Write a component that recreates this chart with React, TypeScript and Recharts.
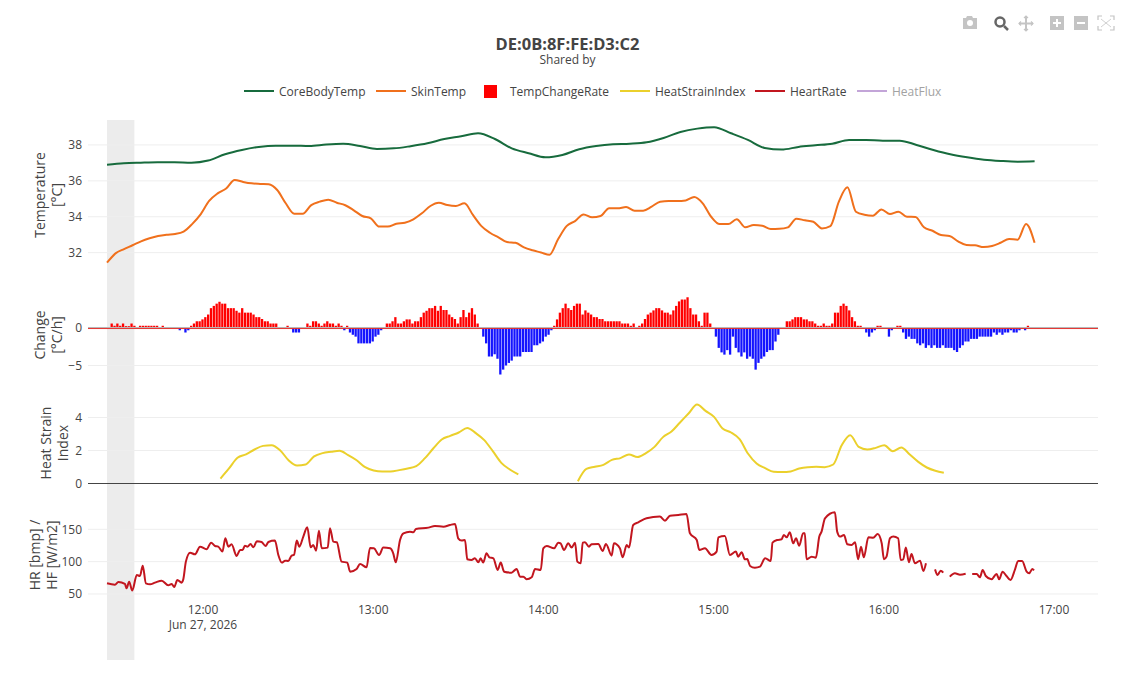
import React from 'react';
import {
  ComposedChart,
  Line,
  Bar,
  Cell,
  XAxis,
  YAxis,
  CartesianGrid,
  ReferenceArea,
  ReferenceLine
} from 'recharts';

const FONT = '"Open Sans", sans-serif';

// time axis, minutes since midnight
const timeDomain = [679.46, 1035.51];
const timeTicks = [720, 780, 840, 900, 960, 1020];
const lineStart = 686.16;
const barStart = 685.91;
const offWristUntil = 695.8;

// degrees C, end to end over the 327 minutes of the recording
const coreTemp = [
  36.9, 36.98, 37.01, 37.03, 37.03, 37.01, 37.13, 37.48, 37.72, 37.89, 37.96, 37.96, 37.94, 38.02, 38.06, 37.94, 37.78, 37.81, 37.93, 38.09,
  38.33, 38.48, 38.65, 38.33, 37.81, 37.54, 37.31, 37.44, 37.76, 37.94, 38.04, 38.07, 38.15, 38.39, 38.72, 38.91, 38.99, 38.65, 38.28, 37.83,
  37.74, 37.89, 37.98, 38.07, 38.28, 38.28, 38.24, 38.24, 38.0, 37.72, 37.48, 37.31, 37.18, 37.11, 37.07, 37.09
];

// degrees C, one every 3 minutes
const skinTemp = [
  31.44, 31.96, 32.2, 32.41, 32.63, 32.8, 32.93, 33.0, 33.04, 33.17, 33.59, 34.13, 34.88, 35.3, 35.57, 36.05, 35.94, 35.86, 35.83, 35.81,
  35.49, 34.75, 34.17, 34.17, 34.65, 34.84, 34.95, 34.78, 34.64, 34.36, 34.04, 33.91, 33.45, 33.45, 33.61, 33.67, 33.86, 34.19, 34.6, 34.78,
  34.65, 34.6, 34.75, 34.1, 33.48, 33.11, 32.85, 32.59, 32.55, 32.29, 32.13, 32.01, 31.88, 32.74, 33.48, 33.76, 34.13, 33.97, 34.04, 34.47,
  34.47, 34.54, 34.34, 34.34, 34.56, 34.84, 34.88, 34.88, 34.91, 35.1, 34.75, 34.0, 33.59, 33.59, 33.86, 33.41, 33.54, 33.5, 33.32,
  33.33, 33.41, 33.89, 33.8, 33.72, 33.35, 33.48, 34.84, 35.64, 34.28, 34.11, 34.06, 34.41, 34.15, 34.28, 34.0, 33.99, 33.41, 33.22, 32.98,
  32.93, 32.63, 32.42, 32.41, 32.31, 32.37, 32.55, 32.76, 32.72, 33.6, 32.55
];

// degrees C per hour, one bar a minute
const tempRate = [
  0, 0, 0.6, 0.3, 0.6, 0.3, 0.6, 0.25, 0.25, 0.6, 0.3, 0.05, 0.3, 0.3, 0.3, 0.3, 0.3, 0.3, 0.3, 0.05,
  0.3, 0.05, 0.05, 0.05, 0.05, 0.05, -0.3, 0.05, -0.6, -0.3, 0.3, 0.6, 0.9, 0.9, 1.15, 1.45, 1.8, 2.65, 2.95, 3.25,
  3.5, 3.25, 3.25, 2.65, 2.65, 2.65, 2.3, 2.05, 2.65, 2.05, 2.05, 2.05, 1.8, 1.45, 1.45, 1.2, 0.9, 0.9, 0.6, 0.6,
  0.6, 0.05, 0.05, 0.05, 0.3, 0.05, -0.6, -0.6, -0.6, 0.05, 0.05, 0.6, 0.3, 0.9, 0.9, 0.6, 0.3, 0.6, 0.9, 0.6,
  0.6, 0.3, 0.6, 0.3, -0.3, 0.3, -0.6, -0.9, -1.15, -2.05, -2.05, -2.05, -2.05, -2.05, -1.8, -1.15, -0.9, -0.3, 0.05, 0.6,
  0.6, 0.9, 1.45, 0.6, 0.6, 0.9, 1.15, 1.15, 0.6, 0.9, 0.9, 1.45, 2.05, 2.3, 2.65, 2.65, 2.95, 2.3, 2.95, 2.4,
  2.4, 1.8, 1.45, 1.2, 0.6, 1.45, 2.4, 1.45, 2.05, 2.65, 1.8, 0.6, 0.1, -1.15, -2.05, -3.8, -3.8, -3.5, -4.1, -6.2,
  -5.55, -5, -4.65, -4.35, -3.8, -3.8, -3.8, -3.2, -3.2, -3.2, -3.2, -2.3, -2.3, -2.05, -1.8, -1.15, -0.9, -0.3, 0.3, 1.15,
  2.05, 2.65, 3.25, 2.65, 2.4, 2.95, 3.25, 3.25, 1.8, 2.35, 2.05, 1.8, 1.45, 1.45, 1.2, 1.2, 0.9, 0.9, 0.9, 0.9,
  0.9, 0.9, 0.6, 0.6, 0.6, 0.3, 0.6, -0.05, 0.3, 0.6, 1.2, 1.8, 2.05, 2.35, 2.65, 2.65, 2.35, 2.05, 2.05, 1.8,
  2.35, 2.95, 3.55, 3.8, 3.8, 4.1, 2.65, 1.8, 1.8, 0.9, 0.3, 2.05, 2.05, 0.6, 0.1, -1.15, -2.65, -3.25, -3.55, -2.95,
  -3.55, -1.15, -2.65, -3.25, -3.8, -3.25, -4.1, -3.8, -4.1, -5.55, -4.65, -4.1, -3.8, -3.2, -2.95, -2.95, -1.8, -0.9, 0, 0.05,
  0.9, 0.9, 1.15, 1.45, 1.45, 1.45, 1.15, 1.15, 0.9, 0.9, 0.6, 0.3, 0.3, 0.6, 0.3, 0.3, 0.6, 2.05, 2.05, 2.95,
  3.25, 2.95, 2.35, 1.45, 0.9, 0.3, 0.3, 0.05, -0.6, -1.15, -0.6, -0.3, 0.3, 0.3, 0.05, -0.05, -1.15, -0.3, 0.05, 0.3,
  0.3, -0.6, -1.45, -1.15, -1.45, -1.45, -2.05, -2.3, -2.05, -2.65, -2.3, -2.65, -2.3, -2.65, -2.65, -2.3, -2.65, -2.65, -2.65, -2.95,
  -3.2, -2.65, -2.3, -1.8, -1.8, -1.45, -1.45, -1.45, -1.15, -1.15, -1.15, -1.15, -1.15, -0.6, -0.9, -0.6, -0.9, -0.6, -0.6, -0.3,
  -0.6, -0.6, -0.3, 0.05, -0.3, 0.3
];

// one every 3 minutes from minute 40 of the recording, null while it is not computed
const heatStrainFrom = 40;
const heatStrain = [
  0.3, 0.91, 1.56, 1.76, 2.06, 2.28, 2.32, 2.02, 1.41, 1.09, 1.15, 1.64, 1.84, 1.92, 1.98, 1.72, 1.41, 0.99, 0.79, 0.73,
  0.73, 0.81, 0.91, 1.05, 1.52, 2.12, 2.67, 2.89, 3.09, 3.37, 3.05, 2.63, 1.96, 1.25, 0.85, 0.55,
  null, null, null, null, null, null,
  0.14, 0.89, 1.01, 1.13, 1.43, 1.54, 1.76, 1.6, 1.84, 2.22, 2.81, 3.15, 3.7, 4.24, 4.79, 4.4, 4.04, 3.33, 3.09, 2.69,
  1.8, 1.21, 0.93, 0.71, 0.69, 0.73, 0.91, 0.99, 1.01, 0.99, 1.15, 2.32, 2.93, 2.22, 2.06, 2.16, 2.32, 1.96, 2.18, 1.76,
  1.31, 0.97, 0.77, 0.65
];

// heart rate samples: minutes into the recording and bpm
const hrMinute = [
  0, 2.8, 4, 6.3, 6.9, 7.8, 8.9, 10.5, 11.6, 12.6, 13.7, 15.2, 16.9, 19.3, 21.6, 22.8, 23.7, 24.8, 26.3, 26.9,
  27.8, 29.3, 31, 32.8, 35.1, 36.7, 38.1, 39.2, 40.7, 41.7, 42.8, 43.9, 45.7, 46.9, 47.8, 48.6, 49.5, 50.6, 51.6, 52.8,
  54.5, 55.9, 56.9, 59.2, 60.4, 61.6, 62.8, 63.9, 65.1, 65.9, 66.9, 67.8, 69.2, 70.6, 71.8, 72.7, 73.7, 74.7, 75.7, 77.8,
  78.6, 79.8, 81, 82.7, 84.7, 85.7, 88, 89.2, 91.5, 92.7, 94.1, 95.9, 97.4, 99.8, 100.9, 101.8, 103.3, 104.5, 106.8, 108,
  108.9, 113.3, 115.6, 118.6, 120.9, 122.7, 123.8, 125, 126.2, 127, 128.5, 129.7, 130.9, 131.7, 132.6, 133.8, 134.8, 136.2, 137.7, 138.8,
  140, 142.6, 144.4, 145.6, 146.8, 147.9, 149.7, 150.9, 152.9, 153.8, 155, 157.6, 159.1, 159.9, 161.1, 162.6, 163.8, 165, 165.8, 167,
  167.7, 168.5, 169.9, 170.8, 173.2, 174.7, 175.9, 177.9, 178.7, 180.8, 181.8, 183.2, 184, 185.5, 187.3, 190.2, 194.9, 196.7, 198.5, 201.4,
  204.3, 205.5, 207.9, 208.8, 210.8, 213.1, 214.9, 215.5, 217.8, 219.6, 221.7, 222.5, 223.7, 224.9, 225.7, 226.7, 228.4, 230.2, 232, 234,
  234.6, 236.3, 237.8, 238.6, 239.6, 240.7, 241.9, 242.9, 244, 245.4, 246, 246.6, 248.4, 249.9, 251.1, 251.9, 253.1, 256.6, 257.4, 258.4,
  259.8, 261, 262.5, 263.7, 264.8, 265.8, 266.8, 268.4, 270.1, 271.7, 273.1, 273.9, 274.8, 276, 277.2, 278.9, 279.8, 280.7, 281.6, 282.7,
  283.6, 284.8, 286.6, 287.8, 288.7, 290.3, 291.9, 292.8, 293.9, 294.8, 296, 297.1, 298.9, 300.7, 302.7, 303.8, 305, 306.6, 307.7, 308.7,
  309.8, 311.8, 313.6, 314.5, 315.7, 317.1, 318.5, 320.1, 321.2, 322.6, 324.2, 325.1, 326.2, 326.8
];
const hrBpm = [
  66.5, 64.4, 68.6, 65.5, 58.8, 69.1, 55.2, 79.4, 77.8, 93.8, 66.5, 64.9, 67.5, 70.6, 63.4, 65.5, 60.8, 71.6, 67.5, 72.7,
  100, 113.9, 111.3, 123.2, 119.1, 129.4, 124.2, 123.2, 115.5, 136.1, 123.2, 126.8, 108.8, 118, 118, 124.7, 123.2, 127.3, 122.2, 131.4,
  130.4, 124.2, 130.4, 132.5, 110.3, 98.5, 101.5, 101, 109.3, 110.3, 132.5, 123.2, 138.7, 153.1, 122.2, 125.8, 117, 147.9, 120.6, 121.7,
  151.6, 130.9, 129.9, 100, 98.5, 84.5, 88.7, 96.4, 91.2, 121.1, 120.6, 110.3, 121.7, 120.6, 112.9, 99, 133.5, 143.8, 146.4, 145.4,
  150.5, 152.6, 155.2, 154.1, 156.7, 158.3, 136.1, 132.5, 133.5, 103.6, 102.6, 105.2, 99, 105.2, 98.5, 112.9, 106.7, 105.2, 87.1, 98.5,
  84.5, 83, 88.7, 76.8, 76.8, 72.7, 75.8, 88.7, 87.1, 120.6, 124.2, 120.6, 129.4, 128.4, 118, 128.4, 121.7, 129.4, 100, 97.4,
  129.4, 129.9, 123.2, 126.8, 127.3, 116.5, 127.3, 109.3, 128.4, 120.6, 106.7, 125.8, 121.7, 156.7, 160.8, 167, 169.6, 163.4, 171.1, 172.2,
  173.7, 143.8, 133.5, 118, 120.6, 110.3, 115.5, 137.6, 139.7, 110.3, 115.5, 107.7, 114.4, 103.6, 104.1, 93.3, 90.7, 92.3, 105.2, 101,
  129.4, 133.5, 134.5, 141.2, 137.6, 145.4, 128.4, 136.1, 124.7, 143.8, 143.8, 103.6, 107.7, 106.2, 138.7, 146.4, 167, 176.3, 146.4, 138.7,
  141.2, 126.8, 125.8, 129.9, 103.6, 123.2, 106.7, 137.6, 137.1, 142.8, 128.4, 103.6, 107.7, 136.1, 138.7, 136.1, 102.6, 103.6, 121.7, 99,
  111.9, 97.4, 101.5, 85.6, 97.4, null, 88.1, 79.4, 86.1, 83, null, 76.8, 82, 79.9, 81.4, null, 80.9, 80.9, 75.8, 87.1,
  77.8, 72.7, 80.9, 72.7, 84.5, 77.8, 71.6, 88.1, 101, 101, 84.5, 82, 88.7, 86.6
];

const tempTicks = [32, 34, 36, 38];
const rateTicks = [-5, 0];
const strainTicks = [0, 2, 4];
const hrTicks = [50, 100, 150];

const legendItems = [
  { name: 'CoreBodyTemp', color: '#176b3d', x: 244 },
  { name: 'SkinTemp', color: '#f0701c', x: 376 },
  { name: 'TempChangeRate', color: '#ff0000', x: 484, square: true },
  { name: 'HeatStrainIndex', color: '#ebd02c', x: 620 },
  { name: 'HeartRate', color: '#c2161f', x: 755 },
  { name: 'HeatFlux', color: '#c3a5d8', x: 857, faded: true }
];

const coreRows = coreTemp.map((v, i) => ({ t: lineStart + (i * 327) / 55, v }));
const skinRows = skinTemp.map((v, i) => ({ t: lineStart + i * 3, v }));
const rateRows = tempRate.map((v, i) => ({ t: barStart + i, v }));
const strainRows = heatStrain.map((v, i) => ({ t: lineStart + heatStrainFrom + i * 3, v }));
const hrRows = hrMinute.map((m, i) => ({ t: lineStart + m, v: hrBpm[i] }));

const tickStyle = { fontSize: 12, fill: '#444', fontFamily: FONT };
const minusSign = (v: number) => String(v).replace('-', '\u2212');

const TimeTick = ({ x, y, payload }: any) => {
  const h = Math.floor(payload.value / 60);
  return (
    <text x={x} textAnchor="middle" style={tickStyle}>
      <tspan x={x} y={y + 5.5}>{`${h}:00`}</tspan>
      {payload.value === 720 && <tspan x={x} y={y + 20.5}>Jun 27, 2026</tspan>}
    </text>
  );
};

const AxisTitle = ({ lines, x, y }: { lines: string[]; x: number; y: number }) => (
  <div style={{
    position: 'absolute',
    left: x,
    top: y,
    width: 0,
    height: 0,
    display: 'flex',
    alignItems: 'center',
    justifyContent: 'center'
  }}>
    <div style={{
      transform: 'rotate(-90deg)',
      whiteSpace: 'nowrap',
      textAlign: 'center',
      fontSize: 14,
      lineHeight: '17px',
      color: '#444',
      fontFamily: FONT
    }}>
      {lines.map((l) => <div key={l}>{l}</div>)}
    </div>
  </div>
);

const Panel = ({ top, height, bottom = 2, children, rows, domain, ticks }: any) => (
  <div style={{ position: 'absolute', left: 0, top }}>
    <ComposedChart
      width={1138}
      height={height}
      data={rows}
      margin={{ top: 0, right: 40, bottom, left: 0 }}
    >
      <CartesianGrid stroke="#eeeeee" vertical={false} horizontalValues={ticks} />
      {children}
      <YAxis
        type="number"
        width={88}
        domain={domain}
        ticks={ticks}
        interval={0}
        allowDataOverflow
        axisLine={false}
        tickLine={false}
        tickSize={4}
        tickMargin={2}
        tick={tickStyle}
        tickFormatter={minusSign}
      />
    </ComposedChart>
  </div>
);

const hiddenTime = (
  <XAxis dataKey="t" type="number" domain={timeDomain} allowDataOverflow hide />
);

const ModeBar = () => {
  const c = '#c4c4c4';
  return (
    <svg width={170} height={24} style={{ position: 'absolute', left: 955, top: 11 }}>
      <g fill={c}>
        <path d="M8 7h3l1-2h5l1 2h4v11H8z" />
        <circle cx={15} cy={12} r={3} fill="#fff" />
      </g>
      <circle cx={45} cy={11} r={4.5} fill="none" stroke="#666" strokeWidth={2.5} />
      <line x1={49} y1={15} x2={53} y2={19} stroke="#666" strokeWidth={2.5} />
      <g stroke={c} strokeWidth={2} fill="none">
        <line x1={71} y1={5} x2={71} y2={20} />
        <line x1={64} y1={12.5} x2={78} y2={12.5} />
        <path d="M69 7l2-2 2 2M69 18l2 2 2-2M66 10.5l-2 2 2 2M76 10.5l2 2-2 2" strokeWidth={1.2} />
      </g>
      <rect x={95} y={5} width={14} height={14} fill={c} />
      <path d="M102 8v8M98 12h8" stroke="#fff" strokeWidth={2} />
      <rect x={119} y={5} width={14} height={14} fill={c} />
      <path d="M122 12h8" stroke="#fff" strokeWidth={2} />
      <path d="M143 9V5h4M155 5h4v4M159 15v4h-4M147 19h-4v-4" fill="none" stroke={c} strokeWidth={1.2} />
      <path d="M146 8l10 8M156 8l-10 8" fill="none" stroke={c} strokeWidth={0.8} />
    </svg>
  );
};

const App = () => {
  return (
    <div style={{
      position: 'absolute',
      left: 0,
      top: 0,
      width: 1138,
      height: 694,
      background: '#fff',
      fontFamily: FONT,
      overflow: 'hidden'
    }}>
      {/* Grey band runs through all four panels */}
      <div style={{ position: 'absolute', left: 0, top: 120 }}>
        <ComposedChart width={1138} height={540} data={[]} margin={{ top: 0, right: 40, bottom: 0, left: 0 }}>
          {hiddenTime}
          <YAxis type="number" domain={[0, 1]} width={88} axisLine={false} tickLine={false} tick={false} />
          <ReferenceArea x1={lineStart} x2={offWristUntil} y1={0} y2={1} fill="#ececec" fillOpacity={1} stroke="none" ifOverflow="extendDomain" />
        </ComposedChart>
      </div>

      <ModeBar />

      <div style={{ position: 'absolute', left: 0, width: 1135, top: 35, textAlign: 'center', fontSize: 16.5, fontWeight: 700, lineHeight: '18px', color: '#444' }}>
        DE:0B:8F:FE:D3:C2
      </div>
      <div style={{ position: 'absolute', left: 0, width: 1135, top: 53, textAlign: 'center', fontSize: 12, lineHeight: '14px', color: '#444' }}>
        Shared by
      </div>

      {/* Custom legend */}
      {legendItems.map((item) => (
        <div key={item.name}>
          {item.square ? (
            <div style={{ position: 'absolute', left: item.x, top: 85, width: 13, height: 13, background: item.color }} />
          ) : (
            <div style={{ position: 'absolute', left: item.x, top: 90, width: 30, height: 2, background: item.color }} />
          )}
          <div style={{
            position: 'absolute',
            left: item.square ? item.x + 26 : item.x + 35,
            top: 83,
            fontSize: 12,
            lineHeight: '17px',
            color: item.faded ? '#a2a2a2' : '#444'
          }}>
            {item.name}
          </div>
        </div>
      ))}

      <AxisTitle lines={['Temperature', '[°C]']} x={48} y={195} />
      <AxisTitle lines={['Change', '[°C/h]']} x={48} y={335} />
      <AxisTitle lines={['Heat Strain', 'Index']} x={54} y={443} />
      <AxisTitle lines={['HR [bmp] /', 'HF [W/m2]']} x={43} y={555} />

      <Panel top={120} height={156} rows={skinRows} domain={[30.81, 39.39]} ticks={tempTicks}>
        {hiddenTime}
        <Line data={coreRows} dataKey="v" type="monotone" stroke="#176b3d" strokeWidth={2} dot={false} isAnimationActive={false} />
        <Line data={skinRows} dataKey="v" type="monotone" stroke="#f0701c" strokeWidth={2} dot={false} isAnimationActive={false} />
      </Panel>

      <Panel top={290} height={112} rows={rateRows} domain={[-9.6, 5.07]} ticks={rateTicks}>
        {hiddenTime}
        <Bar dataKey="v" barSize={2.3} isAnimationActive={false}>
          {rateRows.map((r) => (
            <Cell key={r.t} fill={r.v < 0 ? '#1414ff' : '#ff0000'} />
          ))}
        </Bar>
        {/* zero line: grey axis line with the flat red bars just under it */}
        <ReferenceLine y={0.07} stroke="#b8b8b8" strokeWidth={1} />
        <ReferenceLine y={-0.07} stroke="#e5332f" strokeWidth={1} />
      </Panel>

      <Panel top={400} height={93.5} bottom={10} rows={strainRows} domain={[0, 5.06]} ticks={strainTicks}>
        {hiddenTime}
        <Line dataKey="v" type="monotone" stroke="#ebd02c" strokeWidth={2} dot={false} isAnimationActive={false} />
        <ReferenceLine y={0} stroke="#444" strokeWidth={1} />
      </Panel>

      <Panel top={500} height={140} bottom={0} rows={hrRows} domain={[40.7, 195.3]} ticks={hrTicks}>
        <XAxis
          dataKey="t"
          type="number"
          domain={timeDomain}
          ticks={timeTicks}
          interval={0}
          allowDataOverflow
          height={40}
          axisLine={false}
          tickLine={false}
          tick={<TimeTick />}
        />
        <Line dataKey="v" type="monotone" stroke="#c2161f" strokeWidth={2} dot={false} isAnimationActive={false} />
      </Panel>
    </div>
  );
};

export default App;
